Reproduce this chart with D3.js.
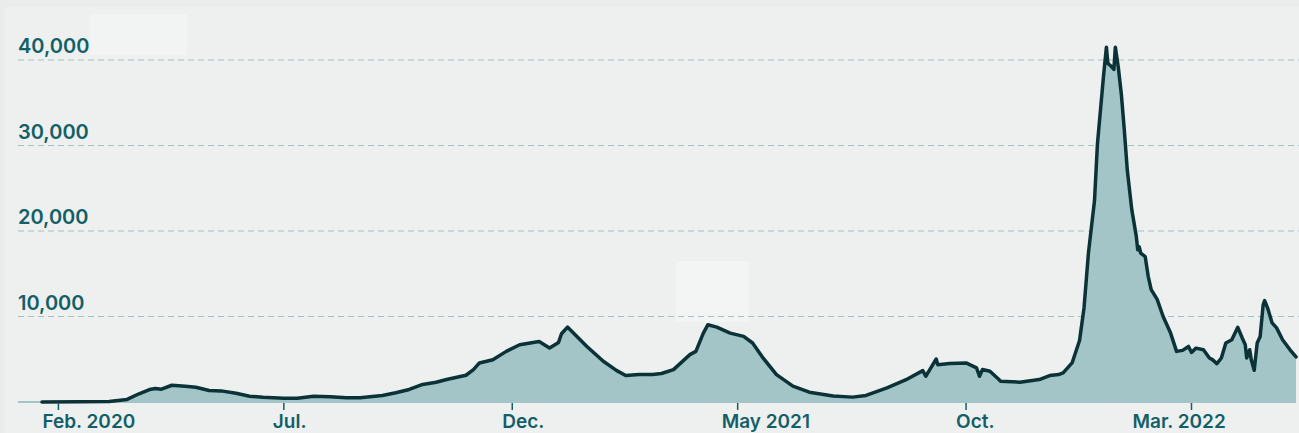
<!DOCTYPE html>
<html>
<head>
<meta charset="utf-8">
<script src="https://cdn.jsdelivr.net/npm/d3@7"></script>
<style>
  html, body { margin: 0; padding: 0; background: #eaecec; }
  svg { display: block; }
  text { font-family: Inter, "Open Sans", sans-serif; }
</style>
</head>
<body>
<svg id="chart" width="1299" height="433"></svg>
<script>
const dates = ["2020-01-21","2020-02-15","2020-03-06","2020-03-18","2020-03-26","2020-04-02","2020-04-06","2020-04-10","2020-04-17","2020-04-26","2020-05-03","2020-05-12","2020-05-20","2020-05-30","2020-06-08","2020-06-17","2020-07-01","2020-07-10","2020-07-21","2020-08-01","2020-08-12","2020-08-21","2020-09-05","2020-09-14","2020-09-23","2020-10-02","2020-10-11","2020-10-18","2020-10-31","2020-11-05","2020-11-09","2020-11-18","2020-11-27","2020-12-06","2020-12-15","2020-12-19","2020-12-26","2021-01-01","2021-01-03","2021-01-07","2021-01-11","2021-01-20","2021-01-31","2021-02-09","2021-02-15","2021-02-24","2021-03-05","2021-03-11","2021-03-19","2021-03-30","2021-04-03","2021-04-08","2021-04-11","2021-04-17","2021-04-26","2021-05-05","2021-05-11","2021-05-18","2021-05-27","2021-06-07","2021-06-18","2021-07-04","2021-07-17","2021-07-26","2021-08-09","2021-08-23","2021-09-02","2021-09-04","2021-09-07","2021-09-11","2021-09-12","2021-09-20","2021-10-01","2021-10-08","2021-10-10","2021-10-12","2021-10-17","2021-10-23","2021-10-24","2021-11-06","2021-11-19","2021-11-26","2021-12-02","2021-12-05","2021-12-11","2021-12-16","2021-12-19","2021-12-22","2021-12-26","2021-12-28","2022-01-01","2022-01-03","2022-01-04","2022-01-06","2022-01-08","2022-01-09","2022-01-11","2022-01-13","2022-01-15","2022-01-17","2022-01-20","2022-01-23","2022-01-24","2022-01-25","2022-01-26","2022-01-29","2022-01-31","2022-02-02","2022-02-06","2022-02-10","2022-02-15","2022-02-19","2022-02-23","2022-02-27","2022-03-01","2022-03-04","2022-03-09","2022-03-13","2022-03-15","2022-03-18","2022-03-21","2022-03-24","2022-03-28","2022-04-01","2022-04-04","2022-04-06","2022-04-07","2022-04-09","2022-04-10","2022-04-12","2022-04-14","2022-04-16","2022-04-18","2022-04-19","2022-04-21","2022-04-24","2022-04-27","2022-05-01","2022-05-06","2022-05-10"];
const values = [0,20,60,300,960,1460,1580,1500,1960,1850,1730,1340,1300,1030,680,560,440,440,680,610,490,490,770,1080,1470,2050,2310,2630,3130,3790,4570,4950,5920,6700,6970,7080,6310,6970,7980,8760,8060,6500,4760,3670,3090,3210,3210,3330,3790,5540,5920,8060,9030,8760,8060,7670,6900,5150,3210,1850,1150,690,570,770,1660,2710,3670,3010,3870,5030,4370,4490,4570,3990,3010,3800,3590,2630,2430,2320,2630,3090,3210,3400,4570,7200,11000,17500,23500,30200,38000,41500,39600,39300,38900,41500,39100,36000,31800,27100,22500,19400,17800,18150,17400,17000,14700,13150,12000,10000,8060,5920,6040,6500,5800,6300,6110,5150,4960,4490,5150,6900,7290,8730,7480,6700,5150,6110,4960,3710,6900,7670,11360,11860,10990,9250,8670,7290,6110,5270];
const yTicks = [10000, 20000, 30000, 40000];
const xTickDates = ["2020-02-01","2020-07-01","2020-12-01","2021-05-01","2021-10-01","2022-03-01"];
const xTickLabels = ["Feb. 2020","Jul.","Dec.","May 2021","Oct.","Mar. 2022"];

// layout (not data)
const xLabelDx = [-16, -11, -10, -16, -10, -59];

const parse = d3.timeParse("%Y-%m-%d");
const data = dates.map((d, i) => ({ date: parse(d), value: values[i] }));

const svg = d3.select("#chart");
const W = 1299, H = 433;
const left = 18, right = 1299, baseY = 402;

svg.append("rect").attr("x", 5).attr("y", 7).attr("width", W - 5).attr("height", H - 7).attr("fill", "#eef0f0");
// faint blank patches seen in the reference
svg.append("rect").attr("x", 90).attr("y", 14).attr("width", 97).attr("height", 41).attr("fill", "#f2f3f3");
svg.append("rect").attr("x", 676).attr("y", 261).attr("width", 73).attr("height", 61).attr("fill", "#f3f4f4");

const x = d3.scaleTime()
  .domain(d3.extent(data, d => d.date))
  .range([42, 1296]);
const y = d3.scaleLinear().domain([0, 40000]).range([baseY, 60]);

// gridlines
svg.append("g").selectAll("line").data(yTicks).join("line")
  .attr("x1", left).attr("x2", right)
  .attr("y1", d => y(d)).attr("y2", d => y(d))
  .attr("stroke", "#a3c2c4").attr("stroke-width", 1.2)
  .attr("stroke-dasharray", "6,4");

svg.append("g").selectAll("text").data(yTicks).join("text")
  .attr("x", left).attr("y", d => y(d) - 7)
  .attr("fill", "#135f67").attr("font-size", 20).attr("font-weight", 600)
  .text(d => d3.format(",")(d));

// baseline
svg.append("line").attr("x1", left).attr("x2", 1296)
  .attr("y1", baseY).attr("y2", baseY)
  .attr("stroke", "#a3c5c8").attr("stroke-width", 2);

const area = d3.area().x(d => x(d.date)).y0(baseY).y1(d => y(d.value));
const line = d3.line().x(d => x(d.date)).y(d => y(d.value));

svg.append("path").datum(data).attr("d", area).attr("fill", "#a3c5c8");
svg.append("path").datum(data).attr("d", line)
  .attr("fill", "none").attr("stroke", "#0b3236").attr("stroke-width", 3.5)
  .attr("stroke-linejoin", "round").attr("stroke-linecap", "round");

// x ticks
const xt = svg.append("g");
xTickDates.forEach((d, i) => {
  const px = x(parse(d));
  xt.append("line").attr("x1", px).attr("x2", px).attr("y1", baseY + 1).attr("y2", baseY + 8)
    .attr("stroke", "#135f67").attr("stroke-width", 1.5);
  xt.append("text").attr("x", px + xLabelDx[i]).attr("y", 428)
    .attr("fill", "#135f67").attr("font-size", 19).attr("font-weight", 600)
    .text(xTickLabels[i]);
});
</script>
</body>
</html>
